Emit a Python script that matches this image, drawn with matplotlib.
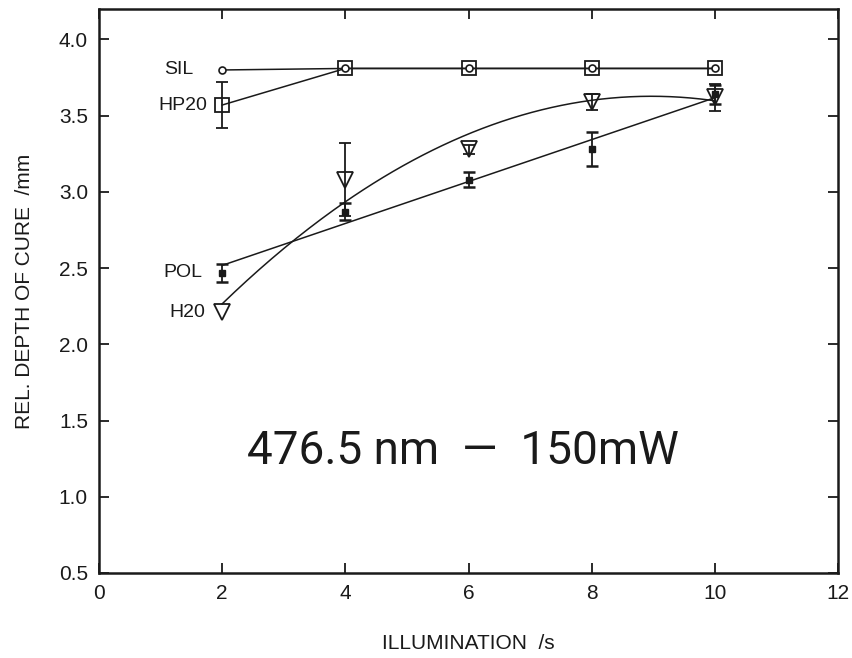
import numpy as np
import matplotlib
matplotlib.use('Agg')
import matplotlib.pyplot as plt

# illumination times /s
t = np.array([2, 4, 6, 8, 10])

sil = np.array([3.80, 3.81, 3.81, 3.81, 3.81])
hp20 = np.array([3.57, 3.81, 3.81, 3.81, 3.81])
hp20_err = np.array([0.15, 0.0, 0.0, 0.0, 0.0])
pol = np.array([2.47, 2.87, 3.08, 3.28, 3.64])
pol_err = np.array([0.06, 0.055, 0.05, 0.11, 0.06])
h20 = np.array([2.21, 3.08, 3.28, 3.59, 3.62])
h20_err = np.array([0.0, 0.24, 0.03, 0.05, 0.09])

plt.rcParams['font.family'] = ['Liberation Sans', 'DejaVu Sans']
ink = '#1a1a1a'

fig = plt.figure(figsize=(8.52, 6.58), dpi=100)
ax = fig.add_axes([99/852, 1-573/658, (838-99)/852, (573-9)/658])

# SIL and HP20: straight segments
ax.plot(t, sil, '-', color=ink, lw=1.1, marker='o', ms=5, mfc='white', mec=ink, mew=1.2, zorder=4)
ax.errorbar(t, hp20, yerr=np.where(hp20_err > 0, hp20_err, np.nan), fmt='s', ms=10, mfc='none',
            mec=ink, mew=1.3, ecolor=ink, elinewidth=1.3, capsize=4.5, capthick=1.8, zorder=3)
ax.plot(t, hp20, '-', color=ink, lw=1.1, zorder=2)

# POL: linear fit
c1 = np.polyfit(t, pol, 1)
xf = np.linspace(2, 10, 200)
ax.plot(xf, np.polyval(c1, xf), '-', color=ink, lw=1.1)
ax.errorbar(t, pol, yerr=pol_err, fmt='s', ms=5, mfc=ink, mec=ink, ecolor=ink,
            elinewidth=1.3, capsize=4.5, capthick=1.8, zorder=4)

# H20: quadratic fit
c2 = np.polyfit(t, h20, 2)
ax.plot(xf, np.polyval(c2, xf), '-', color=ink, lw=1.1)
ax.errorbar(t, h20, yerr=np.where(h20_err > 0, h20_err, np.nan), fmt='v', ms=11, mfc='none',
            mec=ink, mew=1.3, ecolor=ink, elinewidth=1.3, capsize=4.5, capthick=1.8, zorder=3)

lab_kw = dict(textcoords='offset points', ha='right', va='center', fontsize=14, color=ink)
ax.annotate('SIL', (t[0], sil[0]), xytext=(-21, 0), **lab_kw)
ax.annotate('HP20', (t[0], hp20[0]), xytext=(-11, 0), **lab_kw)
ax.annotate('POL', (t[0], pol[0]), xytext=(-14, 0), **lab_kw)
ax.annotate('H20', (t[0], h20[0]), xytext=(-12, 0), **lab_kw)

ax.text(5.91, 1.30, '476.5 nm  \u2014  150mW', ha='center', va='center', fontsize=33,
        family=['Roboto', 'DejaVu Sans'], color=ink)

ax.set_xlim(0, 12)
ax.set_ylim(0.5, 4.2)
ax.set_xticks(np.arange(0, 13, 2))
ax.set_yticks(np.arange(0.5, 4.01, 0.5))
ax.set_yticklabels(['%.1f' % v for v in np.arange(0.5, 4.01, 0.5)])
ax.tick_params(direction='in', length=7, width=1.3, top=True, right=True,
               labelsize=15, colors=ink, pad=8)
for s in ax.spines.values():
    s.set_linewidth(1.8)
    s.set_color(ink)

ax.set_xlabel('ILLUMINATION  /s', fontsize=15, color=ink, labelpad=22)
ax.set_ylabel('REL. DEPTH OF CURE  /mm', fontsize=15, color=ink, labelpad=18)

fig.savefig('out.png', dpi=100)
